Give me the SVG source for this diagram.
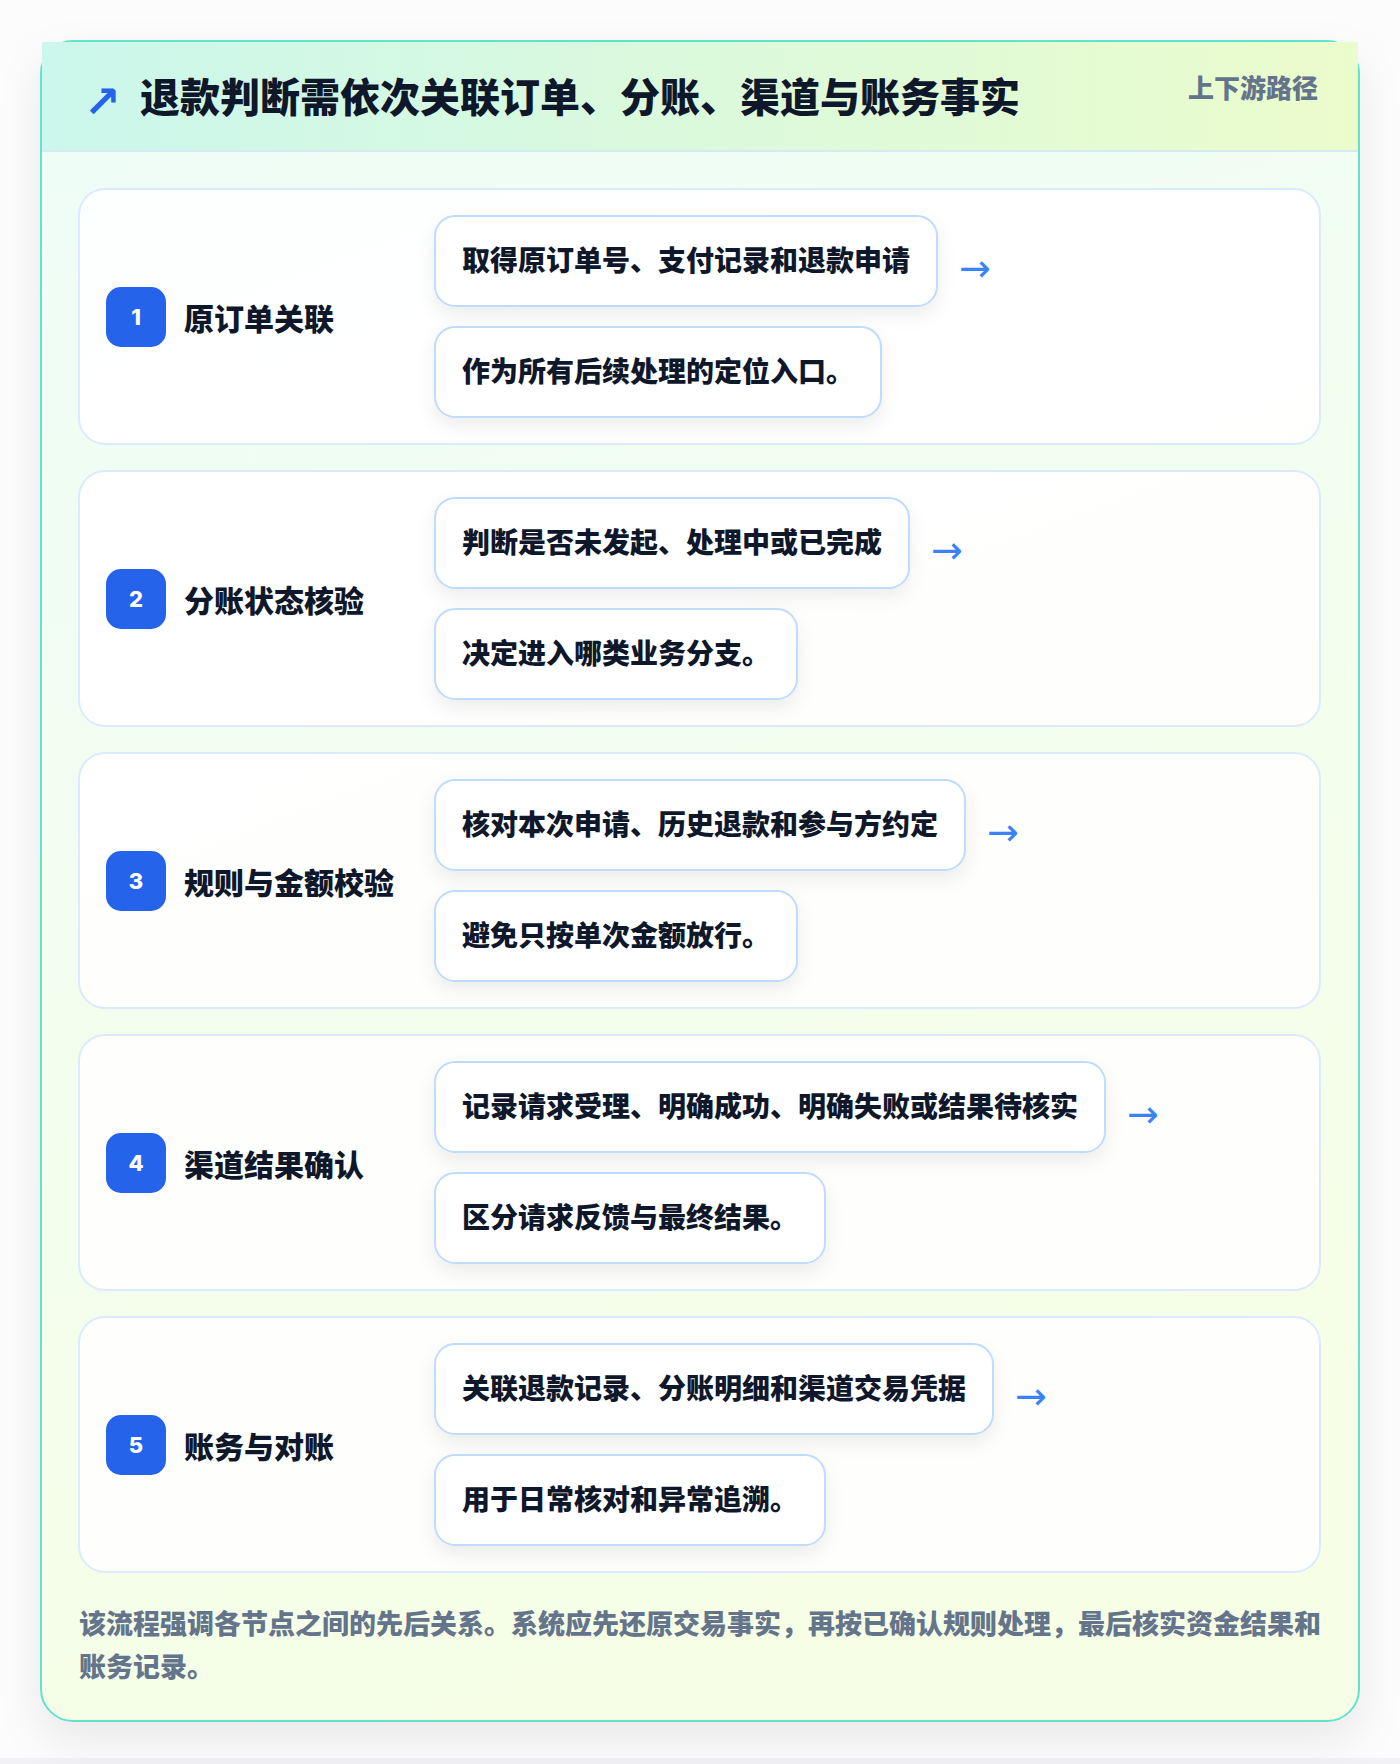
<svg xmlns="http://www.w3.org/2000/svg" width="1400" height="1764" viewBox="0 0 1400 1764">
  <defs>
    <linearGradient id="hdr" x1="0" y1="0" x2="1" y2="0">
      <stop offset="0" stop-color="#cbf7ec"/>
      <stop offset="1" stop-color="#ebfccc"/>
    </linearGradient>
    <linearGradient id="body" x1="0" y1="0" x2="0.3" y2="1">
      <stop offset="0" stop-color="#eefdf8"/>
      <stop offset="1" stop-color="#f6fee6"/>
    </linearGradient>
    <filter id="cardShadow" x="-10%" y="-10%" width="120%" height="120%">
      <feDropShadow dx="0" dy="18" stdDeviation="22" flood-color="#0f172a" flood-opacity="0.08"/>
    </filter>
    <filter id="boxShadow" x="-10%" y="-20%" width="120%" height="160%">
      <feDropShadow dx="0" dy="8" stdDeviation="9" flood-color="#0f172a" flood-opacity="0.07"/>
    </filter>
    <style>
      .cjk { font-family: "Noto Sans CJK SC", "Noto Sans", sans-serif; font-weight: 900; }
      .title { font-size: 40px; fill: #0f172a; }
      .tag { font-size: 26px; fill: #64748b; }
      .row { fill: #ffffff; fill-opacity: 0.88; stroke: #dbeafe; stroke-width: 2; }
      .badge { fill: #2563eb; }
      .num { font-family: Inter, "Liberation Sans", sans-serif; font-weight: 800; font-size: 22px; fill: #ffffff; }
      .label { font-size: 30px; fill: #0f172a; }
      .box { fill: #ffffff; stroke: #bfdbfe; stroke-width: 2; }
      .btxt { font-size: 28px; fill: #0f172a; }
      .arrow { font-family: "DejaVu Sans", sans-serif; font-size: 38px; fill: #3b82f6; }
      .foot { font-size: 27px; fill: #64748b; }
    </style>
  </defs>

  <rect x="0" y="0" width="1400" height="1764" fill="#fcfcfd"/>
  <rect x="0" y="1758" width="1400" height="6" fill="#f1f1f6"/>

  <g id="card">
    <rect x="41" y="41" width="1318" height="1680" rx="32" fill="url(#body)" stroke="#62e3cc" stroke-width="2" filter="url(#cardShadow)"/>
    <rect x="42" y="42" width="1316" height="109" fill="url(#hdr)"/>
    <rect x="42" y="150" width="1316" height="2" fill="#d5eaf3"/>
    <text x="84" y="117" font-family="DejaVu Sans, sans-serif" font-weight="700" font-size="44" fill="#2563eb">↗</text>
    <text class="cjk title" x="140" y="112">退款判断需依次关联订单、分账、渠道与账务事实</text>
    <text class="cjk tag" x="1318" y="98" text-anchor="end">上下游路径</text>
  </g>

  <g id="step1">
    <rect class="row" x="79" y="189" width="1241" height="255" rx="26"/>
    <rect class="badge" x="106" y="287" width="60" height="60" rx="15"/>
    <text class="num" x="136" y="325" text-anchor="middle">1</text>
    <text class="cjk label" x="184" y="330">原订单关联</text>
    <rect class="box" x="435" y="216" width="502" height="90" rx="20" filter="url(#boxShadow)"/>
    <text class="cjk btxt" x="462" y="271">取得原订单号、支付记录和退款申请</text>
    <rect class="box" x="435" y="327" width="446" height="90" rx="20" filter="url(#boxShadow)"/>
    <text class="cjk btxt" x="462" y="382">作为所有后续处理的定位入口。</text>
  </g>

  <g id="step2">
    <rect class="row" x="79" y="471" width="1241" height="255" rx="26"/>
    <rect class="badge" x="106" y="569" width="60" height="60" rx="15"/>
    <text class="num" x="136" y="607" text-anchor="middle">2</text>
    <text class="cjk label" x="184" y="612">分账状态核验</text>
    <rect class="box" x="435" y="498" width="474" height="90" rx="20" filter="url(#boxShadow)"/>
    <text class="cjk btxt" x="462" y="553">判断是否未发起、处理中或已完成</text>
    <rect class="box" x="435" y="609" width="362" height="90" rx="20" filter="url(#boxShadow)"/>
    <text class="cjk btxt" x="462" y="664">决定进入哪类业务分支。</text>
  </g>

  <g id="step3">
    <rect class="row" x="79" y="753" width="1241" height="255" rx="26"/>
    <rect class="badge" x="106" y="851" width="60" height="60" rx="15"/>
    <text class="num" x="136" y="889" text-anchor="middle">3</text>
    <text class="cjk label" x="184" y="894">规则与金额校验</text>
    <rect class="box" x="435" y="780" width="530" height="90" rx="20" filter="url(#boxShadow)"/>
    <text class="cjk btxt" x="462" y="835">核对本次申请、历史退款和参与方约定</text>
    <rect class="box" x="435" y="891" width="362" height="90" rx="20" filter="url(#boxShadow)"/>
    <text class="cjk btxt" x="462" y="946">避免只按单次金额放行。</text>
  </g>

  <g id="step4">
    <rect class="row" x="79" y="1035" width="1241" height="255" rx="26"/>
    <rect class="badge" x="106" y="1133" width="60" height="60" rx="15"/>
    <text class="num" x="136" y="1171" text-anchor="middle">4</text>
    <text class="cjk label" x="184" y="1176">渠道结果确认</text>
    <rect class="box" x="435" y="1062" width="670" height="90" rx="20" filter="url(#boxShadow)"/>
    <text class="cjk btxt" x="462" y="1117">记录请求受理、明确成功、明确失败或结果待核实</text>
    <rect class="box" x="435" y="1173" width="390" height="90" rx="20" filter="url(#boxShadow)"/>
    <text class="cjk btxt" x="462" y="1228">区分请求反馈与最终结果。</text>
  </g>

  <g id="step5">
    <rect class="row" x="79" y="1317" width="1241" height="255" rx="26"/>
    <rect class="badge" x="106" y="1415" width="60" height="60" rx="15"/>
    <text class="num" x="136" y="1453" text-anchor="middle">5</text>
    <text class="cjk label" x="184" y="1458">账务与对账</text>
    <rect class="box" x="435" y="1344" width="558" height="90" rx="20" filter="url(#boxShadow)"/>
    <text class="cjk btxt" x="462" y="1399">关联退款记录、分账明细和渠道交易凭据</text>
    <rect class="box" x="435" y="1455" width="390" height="90" rx="20" filter="url(#boxShadow)"/>
    <text class="cjk btxt" x="462" y="1510">用于日常核对和异常追溯。</text>
  </g>

  <g id="connectors">
    <text class="arrow" x="959" y="281">→</text>
    <text class="arrow" x="931" y="563">→</text>
    <text class="arrow" x="987" y="845">→</text>
    <text class="arrow" x="1127" y="1127">→</text>
    <text class="arrow" x="1015" y="1409">→</text>
  </g>

  <g id="footer">
    <text class="cjk foot" x="79" y="1634">该流程强调各节点之间的先后关系。系统应先还原交易事实，再按已确认规则处理，最后核实资金结果和</text>
    <text class="cjk foot" x="79" y="1677">账务记录。</text>
  </g>
</svg>
